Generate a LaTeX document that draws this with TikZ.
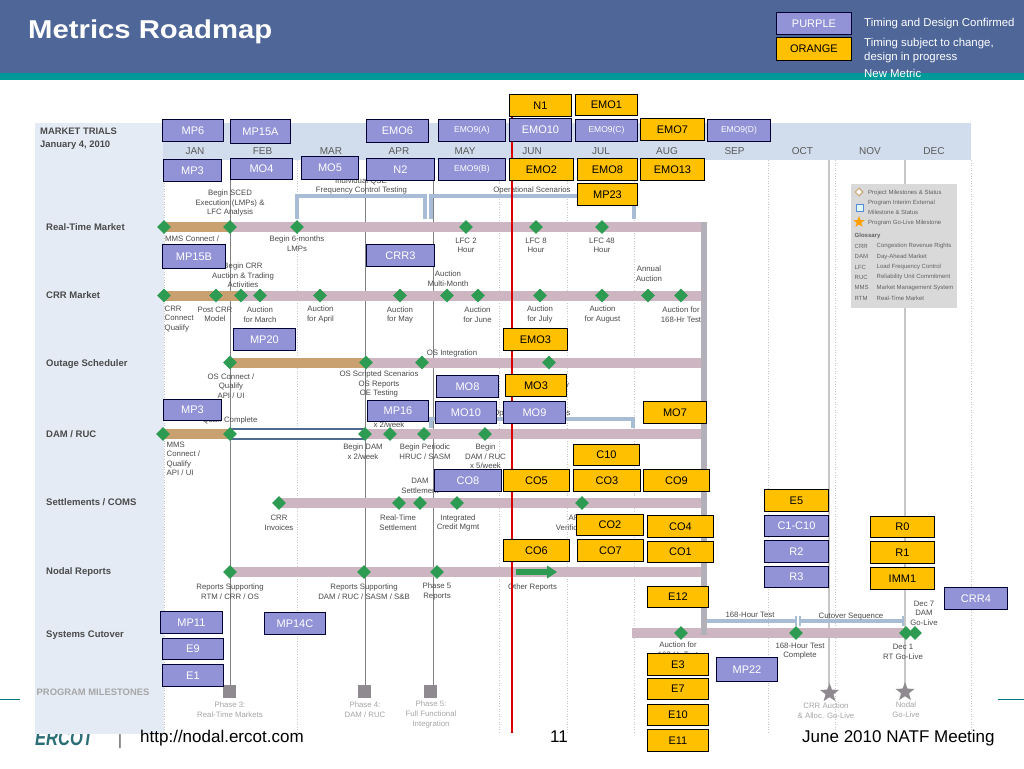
\documentclass[tikz,border=0pt]{standalone}
\usepackage{fontspec}
\usepackage{graphicx}
\setmainfont{Liberation Sans}
\usetikzlibrary{shapes.geometric,arrows.meta}
\definecolor{hdr}{HTML}{4F6699}
\definecolor{tealb}{HTML}{00999A}
\definecolor{logoc}{HTML}{2B6E75}
\definecolor{panel}{HTML}{E4EBF5}
\definecolor{band}{HTML}{D1DDEC}
\definecolor{tanbar}{HTML}{C9A06F}
\definecolor{mauve}{HTML}{CDB6C1}
\definecolor{grn}{HTML}{2E9B52}
\definecolor{purp}{HTML}{9292D6}
\definecolor{oran}{HTML}{FFC000}
\definecolor{brk}{HTML}{A9BCD6}
\definecolor{txt}{HTML}{4A4A4A}
\definecolor{fade}{HTML}{A6A6A6}
\definecolor{sq}{HTML}{8E8A90}
\definecolor{endbar}{HTML}{B3B0BA}
\definecolor{dbl}{HTML}{4F6A8F}
\tikzset{
 boxbase/.style={anchor=north west,inner sep=0pt,draw=black,line width=0.9pt,font=\fontsize{11}{11}\selectfont},
 pbox/.style={boxbase,fill=purp,text=white,draw=black!80!blue},
 obox/.style={boxbase,fill=oran,text=black},
 tiny box/.style={font=\fontsize{8.5}{9}\selectfont},
 mile/.style={diamond,aspect=1,fill=grn,inner sep=0pt,minimum width=14pt,minimum height=14pt},
 lab/.style={align=center,text=txt,inner sep=0pt,font=\fontsize{7.8}{9.6}\selectfont},
 labl/.style={lab,align=left,anchor=north west},
 row/.style={anchor=west,inner sep=0pt,text=txt,font=\bfseries\fontsize{9.5}{9.5}\selectfont},
 month/.style={inner sep=0pt,text=black!65,font=\fontsize{10}{10}\selectfont},
 fadel/.style={align=center,text=fade,inner sep=0pt,font=\fontsize{7.8}{9.6}\selectfont},
 gloss/.style={anchor=west,inner sep=0pt,text=black!62,font=\fontsize{6}{6}\selectfont},
 brack/.style={brk,line width=3.4pt},
 vdot/.style={black!22,line width=0.6pt,dotted},
 vsolid/.style={black!50,line width=0.8pt},
 vthick/.style={black!22,line width=2pt},
 sqm/.style={fill=sq,inner sep=0pt,minimum size=13pt},
 starm/.style={star,star points=5,star point ratio=2.4,fill=sq,inner sep=0pt,minimum size=20pt},
 foot/.style={anchor=base west,inner sep=0pt,text=black,font=\fontsize{17}{17}\selectfont},
 keytxt/.style={anchor=west,align=left,inner sep=0pt,text=white,font=\fontsize{11.4}{14}\selectfont}
}
\newcommand{\PB}[7][]{\node[pbox,#1,minimum width=#5pt-#3pt,minimum height=#6pt-#4pt] (#2) at (#3,#4) {#7};}
\newcommand{\OB}[7][]{\node[obox,#1,minimum width=#5pt-#3pt,minimum height=#6pt-#4pt] (#2) at (#3,#4) {#7};}
\newcommand{\DM}[2]{\node[mile] at (#1,#2) {};}
\begin{document}
\begin{tikzpicture}[x=1pt,y=-1pt]
\useasboundingbox (0,0) rectangle (1024,768);
\fill[white] (0,0) rectangle (1024,768);
% header
\fill[hdr] (0,0) rectangle (1024,73);
\fill[tealb] (0,73) rectangle (1024,80);
\node[anchor=base west,inner sep=0pt,text=white,font=\bfseries\fontsize{25.8}{25}\selectfont] (title) at (28,38.5) {\scalebox{1.135}[1]{Metrics Roadmap}};
% logo and footer rules (under the panel)
\draw[tealb!80!black,line width=0.8pt] (0,699) -- (20,699);
\draw[tealb!80!black,line width=0.8pt] (998,699) -- (1024,699);
\node[anchor=base west,inner sep=0pt,text=logoc,font=\bfseries\itshape\fontsize{22}{22}\selectfont] (logo) at (35,745) {\scalebox{.75}[1]{ERCOT}};
\node[anchor=base,inner sep=0pt,text=black!70,font=\fontsize{15}{15}\selectfont] (sep) at (120,745) {|};
% panel
\fill[panel] (35,123) rectangle (164,733.5);
\fill[band] (163,123) rectangle (971,160);
% verticals
\foreach \x in {164,297,499,567,634,768,835,971} {\draw[vdot] (\x,160) -- (\x,733);}
\draw[vthick] (829,160) -- (829,685);
\draw[vthick] (905,160) -- (905,685);
\draw[vsolid] (230,160) -- (230,688);
\draw[vsolid] (365,180) -- (365,688);
\draw[vsolid] (433,180) -- (433,688);
% text of panel
\node[anchor=west,inner sep=0pt,text=txt,font=\bfseries\fontsize{9.4}{9.4}\selectfont] (mt) at (40,131) {MARKET TRIALS};
\node[anchor=west,inner sep=0pt,text=txt,font=\bfseries\fontsize{9.4}{9.4}\selectfont] (jan) at (40,145.5) {January 4, 2010};
\node[row] (r1) at (46,227) {Real-Time Market};
\node[row] (r2) at (46,295.5) {CRR Market};
\node[row] (r3) at (46,364) {Outage Scheduler};
\node[row] (r4) at (46,434) {DAM / RUC};
\node[row] (r5) at (46,502.5) {Settlements / COMS};
\node[row] (r6) at (46,572) {Nodal Reports};
\node[row] (r7) at (46,635) {Systems Cutover};
\node[anchor=west,inner sep=0pt,text=fade,font=\bfseries\fontsize{9.4}{9.4}\selectfont] (pm) at (36.5,692) {PROGRAM MILESTONES};
\foreach \x/\m in {195/JAN,262.5/FEB,331/MAR,399/APR,465/MAY,532/JUN,601/JUL,667/AUG,734.5/SEP,802.5/OCT,870/NOV,934/DEC} {\node[month] at (\x,151) {\m};}
% brackets
\draw[brack] (297,219) -- (297,196) -- (425,196) -- (425,219);
\draw[brack] (431,219) -- (431,196) -- (634,196) -- (634,219);
\draw[brack] (431,428) -- (431,419) -- (633,419) -- (633,428);
\draw[brack] (706,621) -- (796,621);
\draw[brack] (800,621) -- (903,621);
\draw[brk,line width=2.4pt] (706,613) -- (706,629);
\draw[brk,line width=2.4pt] (796,616) -- (796,626);
\draw[brk,line width=2.4pt] (800,616) -- (800,626);
\draw[brk,line width=2.4pt] (903,616) -- (903,626);
% bars
\fill[tanbar] (164,222) rectangle (230,232);
\fill[mauve] (230,222) rectangle (704,232);
\fill[tanbar] (164,290.5) rectangle (241,300.5);
\fill[mauve] (241,290.5) rectangle (704,300.5);
\fill[tanbar] (230,357.5) rectangle (365,367.5);
\fill[mauve] (365,357.5) rectangle (704,367.5);
\fill[tanbar] (162,429) rectangle (230,439);
\draw[dbl,line width=1.3pt,fill=white] (230,429) rectangle (365,439);
\fill[mauve] (365,429) rectangle (704,439);
\fill[mauve] (279,498) rectangle (704,508);
\fill[mauve] (230,567) rectangle (704,577);
\fill[mauve] (632,628) rectangle (905,638);
\draw[line width=5.5pt,endbar] (704,222) -- (704,635);
% diamonds
\foreach \x in {164,230,297,466,536,602} {\DM{\x}{227}}
\foreach \x in {164,216,241,260,320,400,447,478,540,602,648,681} {\DM{\x}{295.5}}
\foreach \x in {230,366,422,549} {\DM{\x}{362.5}}
\foreach \x in {163,230,365,390,424,485} {\DM{\x}{434}}
\foreach \x in {279,399,420,457,582} {\DM{\x}{503}}
\foreach \x in {230,364,437} {\DM{\x}{572}}
\foreach \x in {681,796,906,915} {\DM{\x}{633}}
\draw[grn,line width=6.5pt,-{Triangle[length=10pt,width=12.5pt]}] (516,572) -- (557,572);
% milestones
\node[sqm] (ph3) at (229.5,691) {};
\node[sqm] (ph4) at (364.5,691) {};
\node[sqm] (ph5) at (430.5,691) {};
\node[starm] (st1) at (829.5,693) {};
\node[starm] (st2) at (905,692) {};
% labels
\node[lab] at (230,203) {Begin SCED\\Execution (LMPs) \&\\LFC Analysis};
\node[lab] at (297,244) {Begin 6-months\\LMPs};
\node[lab] at (466,245.5) {LFC 2\\Hour};
\node[lab] at (536,245.5) {LFC 8\\Hour};
\node[lab] at (602,245.5) {LFC 48\\Hour};
\node[labl] at (165,236) {MMS Connect /};
\node[lab] at (243,275.5) {Begin CRR\\Auction \& Trading\\Activities};
\node[lab] at (448,279) {Auction\\Multi-Month};
\node[lab] at (649,274) {Annual\\Auction};
\node[labl] at (164.5,305.5) {CRR\\Connect\\Qualify};
\node[lab] at (215,314.5) {Post CRR\\Model};
\node[lab] at (260,314.5) {Auction\\for March};
\node[lab] at (320.5,314.5) {Auction\\for April};
\node[lab] at (400,315) {Auction\\for May};
\node[lab] at (477.5,314.5) {Auction\\for June};
\node[lab] at (540,314.5) {Auction\\for July};
\node[lab] at (602.5,314.5) {Auction\\for August};
\node[lab] at (681,314.5) {Auction for\\168-Hr Test};
\node[lab] at (452,353.5) {OS Integration};
\node[lab] at (231,386) {OS Connect /\\Qualify\\API / UI};
\node[lab] at (379,384) {OS Scripted Scenarios\\OS Reports\\OE Testing};
\node[lab] at (230,420) {Qual. Complete};
\node[labl] at (166.5,441.5) {MMS\\Connect /\\Qualify\\API / UI};
\node[lab] at (389,424.5) {x 2/week};
\node[lab] at (363,452) {Begin DAM\\x 2/week};
\node[lab] at (425,452) {Begin Periodic\\HRUC / SASM};
\node[lab] at (485.5,456.5) {Begin\\DAM / RUC\\x 5/week};
\node[lab] at (420,486) {DAM\\Settlement};
\node[lab] at (279,523) {CRR\\Invoices};
\node[lab] at (398,523) {Real-Time\\Settlement};
\node[lab] at (458,523) {Integrated\\Credit Mgmt};
\node[lab] at (575,523) {API\\Verification};
\node[lab] at (230,591.5) {Reports Supporting\\RTM / CRR / OS};
\node[lab] at (364,591.5) {Reports Supporting\\DAM / RUC / SASM / S\&B};
\node[lab] at (437,591.5) {Phase 5\\Reports};
\node[lab] at (532.5,587) {Other Reports};
\node[lab] at (678,650) {Auction for\\168-Hr Test};
\node[lab] at (750,615) {168-Hour Test};
\node[lab] at (851,616.5) {Cutover Sequence};
\node[lab] at (800,651) {168-Hour Test\\Complete};
\node[lab] at (924,613) {Dec 7\\DAM\\Go-Live};
\node[lab] at (903,652) {Dec 1\\RT Go-Live};
\node[lab] at (361,181.5) {Individual QSE};
\node[lab] at (361.5,190) {Frequency Control Testing};
\node[lab] at (532,190) {Operational Scenarios};
\node[lab] at (532,413) {Operational Scenarios};
\node[lab] at (567,386) {y};
% faded milestone captions
\node[fadel] at (230,710) {Phase 3:\\Real-Time Markets};
\node[fadel] at (365,710) {Phase 4:\\DAM / RUC};
\node[fadel] at (431,714.5) {Phase 5:\\Full Functional\\Integration};
\node[fadel] at (826,710.5) {CRR Auction\\\& Alloc. Go-Live};
\node[fadel] at (906,710) {Nodal\\Go-Live};
% legend panel
\fill[black!15] (851,184) rectangle (957,308);
\node[diamond,aspect=1,draw=tanbar,fill=white,line width=1pt,inner sep=0pt,minimum size=8pt] (l1) at (859,192) {};
\node[draw=cyan!50!blue!70!white,fill=cyan!12,line width=1pt,inner sep=0pt,minimum size=7pt] (l2) at (859.5,207.5) {};
\node[star,star points=5,star point ratio=2.4,fill=orange!75!yellow,inner sep=0pt,minimum size=12pt] (l3) at (859,222) {};
\node[gloss] at (868,192.7) {Project Milestones \& Status};
\node[gloss] at (868,203) {Program Interim External};
\node[gloss] at (868,212) {Milestone \& Status};
\node[gloss] at (868,222.7) {Program Go-Live Milestone};
\node[gloss,font=\bfseries\fontsize{6}{6}\selectfont] at (854.5,235.5) {Glossary};
\foreach \y/\a/\b in {246/CRR/Congestion Revenue Rights,256.5/DAM/Day-Ahead Market,267/LFC/Load Frequency Control,277/RUC/Reliability Unit Commitment,287.5/MMS/Market Management System,298/RTM/Real-Time Market}{
 \node[gloss] at (854.5,\y) {\a};
 \node[gloss] at (876.5,\y) {\b};
}
% red line
\draw[red!85!black,line width=2.5pt] (512,116) -- (512,733);
% legend in header
\PB{lp}{776}{12}{851}{34}{PURPLE}
\OB{lo}{776}{37}{851}{60}{ORANGE}
\node[keytxt] (k1) at (864,23.5) {Timing and Design Confirmed};
\node[keytxt] (k2) at (864,50.5) {Timing subject to change,\\design in progress};
\node[keytxt] (k3) at (864,73.5) {New Metric};
% purple boxes
\PB{mp6}{162}{119}{223}{141}{MP6}
\PB{mp15a}{230}{119}{290}{143}{MP15A}
\PB{mp3a}{163}{159}{221}{181}{MP3}
\PB{mo4}{230}{158}{292}{179}{MO4}
\PB{mo5}{301}{156}{358}{179}{MO5}
\PB{mp15b}{162}{244}{225}{268}{MP15B}
\PB{mp20}{233}{328}{295}{350}{MP20}
\PB{emo6}{366}{119}{428}{142}{EMO6}
\PB[tiny box]{emo9a}{438}{119}{505}{141}{EMO9(A)}
\PB{emo10}{509}{118}{571}{141}{EMO10}
\PB[tiny box]{emo9c}{575}{119}{637}{141}{EMO9(C)}
\PB[tiny box]{emo9d}{707}{119}{770}{141}{EMO9(D)}
\PB{n2}{366}{158}{434}{180}{N2}
\PB[tiny box]{emo9b}{438}{158}{505}{180}{EMO9(B)}
\PB{crr3}{366}{244}{434}{266}{CRR3}
\PB{mo8}{436}{375}{498}{397}{MO8}
\PB{mp16}{367}{400}{428}{421}{MP16}
\PB{mo10}{435}{401}{496}{423}{MO10}
\PB{mo9}{503}{401}{565}{423}{MO9}
\PB{mp3b}{163}{399}{221}{420}{MP3}
\PB{co8}{434}{469}{501}{491}{CO8}
\PB{mp11}{160}{611}{222}{633}{MP11}
\PB{e9}{162}{638}{223}{659}{E9}
\PB{e1}{162}{664}{223}{686}{E1}
\PB{mp14c}{264}{612}{325}{634}{MP14C}
\PB{c1c10}{764}{515}{828}{536}{C1-C10}
\PB{r2}{764}{540}{828}{562}{R2}
\PB{r3}{764}{566}{828}{587}{R3}
\PB{crr4}{944}{587}{1007}{609}{CRR4}
\PB{mp22}{716}{657}{777}{681}{MP22}
% orange boxes
\OB{n1}{509}{94}{571}{116}{N1}
\OB{emo1}{575}{94}{637}{115}{EMO1}
\OB{emo7}{640}{118}{704}{140}{EMO7}
\OB{emo2}{509}{158}{573}{180}{EMO2}
\OB{emo8}{577}{158}{637}{180}{EMO8}
\OB{emo13}{640}{158}{704}{180}{EMO13}
\OB{mp23}{577}{183}{637}{205}{MP23}
\OB{emo3}{503}{328}{567}{350}{EMO3}
\OB{mo3}{505}{374}{566}{396}{MO3}
\OB{mo7}{643}{401}{706}{423}{MO7}
\OB{c10}{573}{444}{639}{465}{C10}
\OB{co5}{503}{469}{569}{491}{CO5}
\OB{co3}{573}{469}{640}{491}{CO3}
\OB{co9}{643}{469}{709}{491}{CO9}
\OB{co2}{576}{514}{643}{535}{CO2}
\OB{co4}{647}{515}{713}{537}{CO4}
\OB{co6}{503}{539}{569}{561}{CO6}
\OB{co7}{577}{539}{643}{561}{CO7}
\OB{co1}{647}{541}{713}{562}{CO1}
\OB{e12}{647}{586}{708}{607}{E12}
\OB{e3}{647}{653}{708}{675}{E3}
\OB{e7}{647}{678}{708}{699}{E7}
\OB{e10}{647}{704}{708}{725}{E10}
\OB{e11}{647}{729}{708}{751}{E11}
\OB{e5}{764}{489}{828}{511}{E5}
\OB{r0}{870}{516}{934}{537}{R0}
\OB{r1}{870}{541}{934}{563}{R1}
\OB{imm1}{870}{567}{934}{589}{IMM1}
% footer
\node[foot] (url) at (140,742.5) {http://nodal.ercot.com};
\node[foot] (pg) at (550,742.5) {11};
\node[foot] (mtg) at (802,742.5) {June 2010 NATF Meeting};
\end{tikzpicture}
\end{document}
